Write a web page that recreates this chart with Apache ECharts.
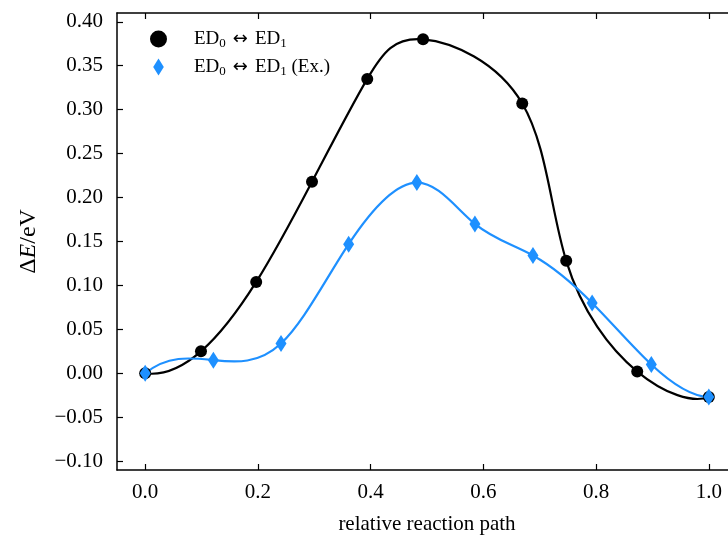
<!DOCTYPE html>
<html>
<head>
<meta charset="utf-8">
<style>
  html, body { margin: 0; padding: 0; background: #fff; overflow: hidden; }
  #chart { width: 740px; height: 540px; }
</style>
<script src="https://cdn.jsdelivr.net/npm/echarts@6/dist/echarts.min.js"></script>
</head>
<body>
<div id="chart"></div>
<script>
// Energy profile along the reaction path
const pathCalc = [0.0, 0.099, 0.197, 0.296, 0.394, 0.493, 0.669, 0.747, 0.873, 1.0];
const energyCalc = [0.0, 0.025, 0.104, 0.218, 0.335, 0.380, 0.307, 0.128, 0.002, -0.027];

const pathEx = [0.0, 0.121, 0.241, 0.361, 0.482, 0.585, 0.688, 0.793, 0.898, 1.0];
const energyEx = [0.0, 0.015, 0.034, 0.147, 0.217, 0.170, 0.134, 0.080, 0.010, -0.027];

const xTicks = [0.0, 0.2, 0.4, 0.6, 0.8, 1.0];
const yTicks = [-0.10, -0.05, 0.00, 0.05, 0.10, 0.15, 0.20, 0.25, 0.30, 0.35, 0.40];

const FONT = '"Liberation Serif", "DejaVu Serif", serif';
const ARROW_FONT = '"DejaVu Sans", sans-serif';
const BLUE = '#1E90FF';

const pairs = (xs, ys) => xs.map((x, i) => [x, ys[i]]);
const fmtY = v => (v < 0 ? '\u2212' : '') + Math.abs(v).toFixed(2);

// Knot derivatives of a not-a-knot cubic spline through v over t = 0, 1, 2, ...
function splineDerivs(v) {
  const n = v.length;
  const A = Array.from({ length: n }, () => new Array(n).fill(0));
  const b = new Array(n).fill(0);
  A[0][0] = 1; A[0][1] = -2; A[0][2] = 1;
  for (let i = 1; i < n - 1; i++) {
    A[i][i - 1] = 1; A[i][i] = 4; A[i][i + 1] = 1;
    b[i] = 6 * (v[i + 1] - 2 * v[i] + v[i - 1]);
  }
  A[n - 1][n - 3] = 1; A[n - 1][n - 2] = -2; A[n - 1][n - 1] = 1;
  for (let c = 0; c < n; c++) {
    let p = c;
    for (let r = c + 1; r < n; r++) if (Math.abs(A[r][c]) > Math.abs(A[p][c])) p = r;
    [A[c], A[p]] = [A[p], A[c]]; [b[c], b[p]] = [b[p], b[c]];
    for (let r = c + 1; r < n; r++) {
      const f = A[r][c] / A[c][c];
      for (let k = c; k < n; k++) A[r][k] -= f * A[c][k];
      b[r] -= f * b[c];
    }
  }
  const M = new Array(n).fill(0);
  for (let r = n - 1; r >= 0; r--) {
    let s = b[r];
    for (let k = r + 1; k < n; k++) s -= A[r][k] * M[k];
    M[r] = s / A[r][r];
  }
  const d = [];
  for (let i = 0; i < n - 1; i++) d.push(v[i + 1] - v[i] - (2 * M[i] + M[i + 1]) / 6);
  d.push(v[n - 1] - v[n - 2] + (M[n - 2] + 2 * M[n - 1]) / 6);
  return d;
}

// Parametric spline through the points; each piece is drawn as one Bezier segment.
function splineSeries(name, xs, ys, color, z) {
  const dx = splineDerivs(xs);
  const dy = splineDerivs(ys);
  return {
    name: name,
    type: 'custom',
    data: pairs(xs, ys),
    z: z,
    silent: true,
    renderItem: (params, api) => {
      const i = params.dataIndex;
      if (i >= xs.length - 1) return null;
      const p0 = api.coord([xs[i], ys[i]]);
      const p1 = api.coord([xs[i + 1], ys[i + 1]]);
      const c0 = api.coord([xs[i] + dx[i] / 3, ys[i] + dy[i] / 3]);
      const c1 = api.coord([xs[i + 1] - dx[i + 1] / 3, ys[i + 1] - dy[i + 1] / 3]);
      return {
        type: 'bezierCurve',
        shape: { x1: p0[0], y1: p0[1], x2: p1[0], y2: p1[1], cpx1: c0[0], cpy1: c0[1], cpx2: c1[0], cpy2: c1[1] },
        style: { stroke: color, lineWidth: 2.2, fill: null, lineCap: 'round' }
      };
    }
  };
}

const legendRich = {
  n: { fontFamily: FONT, fontSize: 19, color: '#000', lineHeight: 24 },
  a: { fontFamily: ARROW_FONT, fontSize: 18, color: '#000', lineHeight: 24, padding: [0, 7, 0, 7] },
  s: { fontFamily: FONT, fontSize: 13, color: '#000', lineHeight: 24, padding: [9, 0, 0, 0] }
};

const chart = echarts.init(document.getElementById('chart'), null, { renderer: 'canvas' });

chart.setOption({
  backgroundColor: '#fff',
  animation: false,
  textStyle: { fontFamily: FONT },
  grid: { left: 117, top: 13, width: 620, height: 460, containLabel: false },
  legend: {
    data: [
      { name: 'calc', icon: 'circle' },
      { name: 'ex', icon: 'path://M5,0 L10,8 L5,16 L0,8 Z' }
    ],
    left: 145,
    top: 23,
    orient: 'vertical',
    itemGap: 6,
    itemWidth: 17,
    itemHeight: 17,
    symbolKeepAspect: true,
    formatter: name => name === 'calc'
      ? '{n|ED}{s|0}{a|\u2194}{n|ED}{s|1}'
      : '{n|ED}{s|0}{a|\u2194}{n|ED}{s|1}{n| (Ex.)}',
    textStyle: { rich: legendRich, padding: [0, 0, 0, 22] }
  },
  xAxis: [
    {
      type: 'value',
      min: -0.05,
      max: 1.05,
      position: 'bottom',
      name: 'relative reaction path',
      nameLocation: 'middle',
      nameGap: 44,
      nameTextStyle: { fontFamily: FONT, fontSize: 21, color: '#000' },
      axisLine: { show: true, onZero: false, lineStyle: { color: '#000', width: 1.5 } },
      axisTick: { show: true, inside: true, length: 6, customValues: xTicks, lineStyle: { color: '#000', width: 1.2 } },
      axisLabel: { customValues: xTicks, margin: 12, fontFamily: FONT, fontSize: 21, color: '#000', formatter: v => v.toFixed(1) },
      splitLine: { show: false }
    },
    {
      type: 'value',
      min: -0.05,
      max: 1.05,
      position: 'top',
      axisLine: { show: true, onZero: false, lineStyle: { color: '#000', width: 1.5 } },
      axisTick: { show: true, inside: true, length: 6, customValues: xTicks, lineStyle: { color: '#000', width: 1.2 } },
      axisLabel: { show: false },
      splitLine: { show: false }
    }
  ],
  yAxis: {
    type: 'value',
    min: -0.11,
    max: 0.41,
    name: '{n|\u0394}{i|E}{n|/eV}',
    nameLocation: 'middle',
    nameGap: 76,
    nameRotate: 90,
    nameTextStyle: {
      rich: {
        n: { fontFamily: FONT, fontSize: 24, color: '#000' },
        i: { fontFamily: FONT, fontSize: 24, fontStyle: 'italic', color: '#000' }
      }
    },
    axisLine: { show: true, onZero: false, lineStyle: { color: '#000', width: 1.5 } },
    axisTick: { show: true, inside: true, length: 6, customValues: yTicks, lineStyle: { color: '#000', width: 1.2 } },
    axisLabel: { customValues: yTicks, margin: 14, fontFamily: FONT, fontSize: 21, color: '#000', formatter: fmtY },
    splitLine: { show: false }
  },
  series: [
    splineSeries('calc-curve', pathCalc, energyCalc, '#000', 2),
    splineSeries('ex-curve', pathEx, energyEx, BLUE, 3),
    {
      name: 'calc',
      type: 'scatter',
      data: pairs(pathCalc, energyCalc),
      symbol: 'circle',
      symbolSize: 12,
      itemStyle: { color: '#000', opacity: 1 },
      z: 4
    },
    {
      name: 'ex',
      type: 'scatter',
      data: pairs(pathEx, energyEx),
      symbol: 'diamond',
      symbolSize: [11, 17],
      itemStyle: { color: BLUE, opacity: 1 },
      z: 5
    }
  ]
});
</script>
</body>
</html>
